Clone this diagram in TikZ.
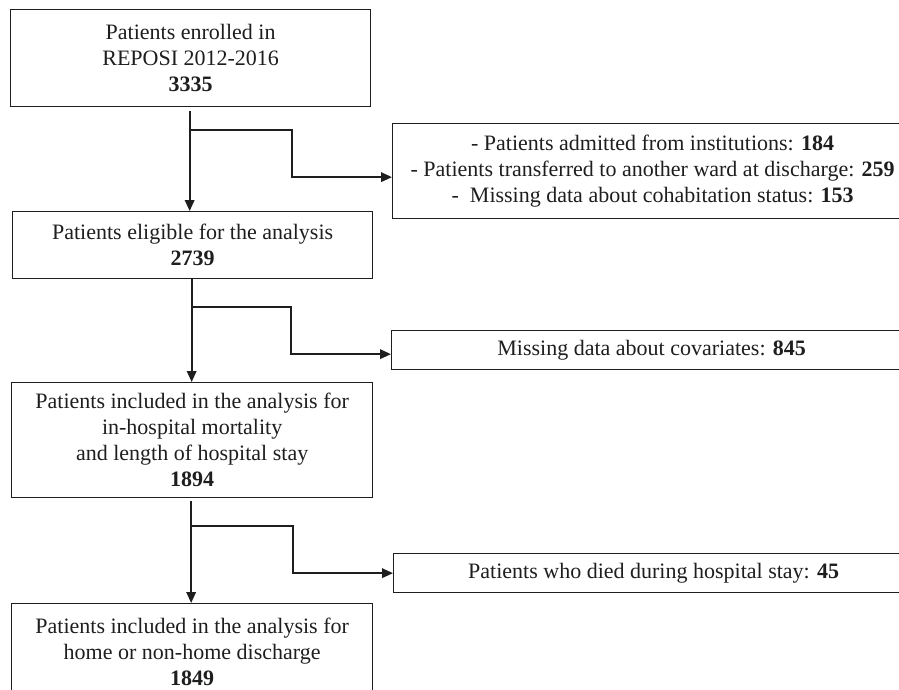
\documentclass[tikz,border=0pt]{standalone}
\usepackage{fontspec}
\setmainfont{Liberation Serif}
\usepackage{tikz}
\usetikzlibrary{positioning,arrows.meta}

\definecolor{inkgray}{HTML}{1E1E1E}

\begin{document}
\begin{tikzpicture}[
		x=1pt, y=-1pt,
		>={Triangle[length=11pt,width=9.5pt]},
		every node/.style={
			font=\fontsize{22}{26}\selectfont,
			text=inkgray,
			align=center
		},
		mainbox/.style={
			draw=inkgray, line width=1.3pt, inner sep=0pt,
			anchor=north west, minimum width=360pt
		},
		sidebox/.style={
			draw=inkgray, line width=1.3pt, inner sep=0pt,
			anchor=north west, minimum width=520pt
		},
		flowline/.style={draw=inkgray, line width=1.9pt, ->}
		]
		
		\clip (0,0) rectangle (899,689);
		
		%--------------------------------------------------
		% Main column
		%--------------------------------------------------
		
		\node (enrolled) [mainbox, minimum height=97pt] at (10,9)
		{Patients enrolled in\\REPOSI 2012-2016\\\textbf{3335}};
		\node (eligible) [mainbox, minimum height=67pt] at (12,211)
		{Patients eligible for the analysis\\\textbf{2739}};
		\node (mortality) [mainbox, minimum height=115pt, minimum width=361pt] at (11,382)
		{Patients included in the analysis for\\in-hospital mortality\\and length of hospital stay\\\textbf{1894}};
		\node (discharge) [mainbox, minimum height=97pt, minimum width=361pt] at (11,603)
		{Patients included in the analysis for\\home or non-home discharge\\\textbf{1849}};
		
		%--------------------------------------------------
		% Excluded patients
		%--------------------------------------------------
		
		\node (excluded) [sidebox, minimum height=95pt] at (392,123)
		{- Patients admitted from institutions: \textbf{184}\\
			- Patients transferred to another ward at discharge: \textbf{259}\\
			-~ Missing data about cohabitation status: \textbf{153}};
		\node (covariates) [sidebox, minimum height=39pt] at (391,330)
		{Missing data about covariates: \textbf{845}};
		\node (died) [sidebox, minimum height=39pt] at (393,553)
		{Patients who died during hospital stay: \textbf{45}};
		
		%--------------------------------------------------
		% Arrows
		%--------------------------------------------------
		
		\draw[flowline, shorten <=4pt]
		([xshift=-1pt]enrolled.south) -- ([xshift=-1pt]enrolled.south |- eligible.north);
		\draw[flowline]
		([xshift=-1pt]eligible.south) -- ([xshift=-1pt]eligible.south |- mortality.north);
		\draw[flowline, shorten <=3pt]
		([xshift=-1pt]mortality.south) -- ([xshift=-1pt]mortality.south |- discharge.north);
		
		\coordinate (split1) at (189,130);
		\coordinate (split2) at (191,307);
		\coordinate (split3) at (191,526);
		
		\draw[flowline] (split1) -- ++(103,0) |- ([yshift=-6pt]excluded.west);
		\draw[flowline] (split2) -- ++(100,0) |- ([yshift=-4pt]covariates.west);
		\draw[flowline] (split3) -- ++(102,0) |- (died.west);
		
	\end{tikzpicture}
\end{document}
